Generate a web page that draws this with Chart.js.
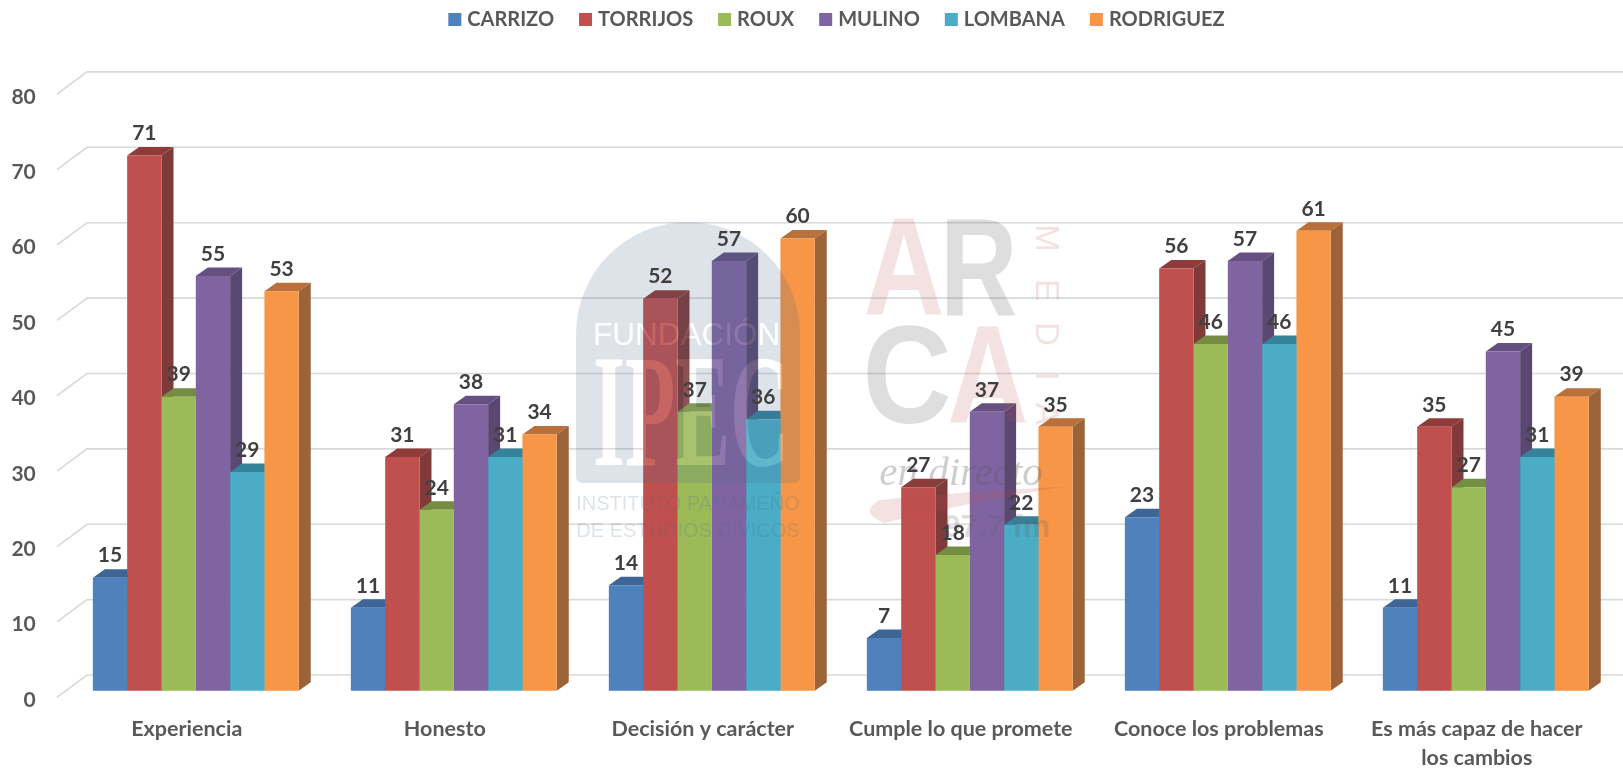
<!DOCTYPE html>
<html>
<head>
<meta charset="utf-8">
<style>html,body{margin:0;padding:0;background:#fff;overflow:hidden}canvas{display:block}</style>
<script src="https://cdn.jsdelivr.net/npm/chart.js@4"></script>
</head>
<body>
<canvas id="c" width="1623" height="768"></canvas>
<script>
const categories = ["Experiencia","Honesto","Decisión y carácter","Cumple lo que promete","Conoce los problemas",["Es más capaz de hacer","los cambios"]];
const seriesNames = ["CARRIZO","TORRIJOS","ROUX","MULINO","LOMBANA","RODRIGUEZ"];
const carrizo = [15,11,14,7,23,11];
const torrijos = [71,31,52,27,56,35];
const roux = [39,24,37,18,46,27];
const mulino = [55,38,57,37,57,45];
const lombana = [29,31,36,22,46,31];
const rodriguez = [53,34,60,35,61,39];
const yTicks = [0,10,20,30,40,50,60,70,80];
const frontColors = ["#4f81bd","#c0504d","#9bbb59","#8064a2","#4bacc6","#f79646"];
const topColors = ["#3d6595","#8f3b39","#748d43","#655081","#35839a","#b9703a"];
const sideColors = ["#365a85","#7f3a39","#67803c","#5a4872","#2f7488","#9c6238"];
const allValues = [carrizo,torrijos,roux,mulino,lombana,rodriguez];

const DEPTH_X = 12, DEPTH_Y = 8.5;
const FONT = "Lato, 'Open Sans', sans-serif";

function fitLetter(ctx, ch, left, right, baseline, font, color) {
  ctx.save();
  ctx.font = font;
  ctx.textAlign = 'left';
  ctx.textBaseline = 'alphabetic';
  ctx.fillStyle = color;
  const m = ctx.measureText(ch);
  const inkW = m.actualBoundingBoxLeft + m.actualBoundingBoxRight;
  const sx = (right - left) / inkW;
  ctx.translate(left, baseline);
  ctx.scale(sx, 1);
  ctx.fillText(ch, m.actualBoundingBoxLeft, 0);
  ctx.restore();
}

function drawArca(ctx) {
  const pink = 'rgba(192,80,77,0.17)', grey = 'rgba(90,90,90,0.2)';
  const f = "bold 140px 'Liberation Sans'";
  fitLetter(ctx, 'A', 866, 942, 315, f, pink);
  fitLetter(ctx, 'R', 947, 1016, 315, f, grey);
  fitLetter(ctx, 'C', 867, 949, 423, f, grey);
  fitLetter(ctx, 'A', 950, 1026, 423, f, pink);
  const word = [['M',238],['E',290],['D',334],['I',376],['A',414]];
  ctx.save();
  ctx.font = "33px 'Liberation Sans'";
  ctx.fillStyle = pink; ctx.textBaseline = 'middle'; ctx.textAlign = 'center';
  word.forEach(([ch, py]) => {
    ctx.save(); ctx.translate(1045, py); ctx.rotate(Math.PI / 2);
    ctx.fillText(ch, 0, 0); ctx.restore();
  });
  ctx.restore();
  ctx.save();
  ctx.textAlign = 'center'; ctx.textBaseline = 'alphabetic';
  ctx.font = "italic 41px 'Liberation Serif'";
  ctx.fillStyle = 'rgba(90,90,90,0.3)';
  ctx.fillText('en directo', 961, 485);
  ctx.fillStyle = pink;
  ctx.beginPath();
  ctx.moveTo(880, 500);
  ctx.quadraticCurveTo(980, 490, 1063, 487);
  ctx.quadraticCurveTo(980, 500, 884, 523);
  ctx.quadraticCurveTo(858, 512, 880, 500);
  ctx.closePath(); ctx.fill();
  ctx.font = "bold 31px 'Liberation Sans'";
  ctx.fillStyle = grey;
  ctx.fillText('97.7 fm', 997, 537);
  ctx.restore();
}

const legendNudgePlugin = {
  id: 'legendNudge',
  afterLayout(chart) { chart.legend.top += 4; }
};

const wallPlugin = {
  id: 'wall',
  beforeDatasetsDraw(chart) {
    const ctx = chart.ctx, y = chart.scales.y;
    ctx.save();
    ctx.strokeStyle = '#d9d9d9';
    ctx.lineWidth = 1.6;
    yTicks.forEach(v => {
      const p = y.getPixelForValue(v);
      ctx.beginPath();
      ctx.moveTo(57, p + 6.6);
      ctx.lineTo(87, p - 15.7);
      ctx.lineTo(1623, p - 15.7);
      ctx.stroke();
    });
    chart.data.datasets.forEach((ds, d) => {
      chart.getDatasetMeta(d).data.forEach(bar => {
        const l = bar.x - bar.width / 2, r = bar.x + bar.width / 2, t = bar.y, b = bar.base;
        ctx.fillStyle = topColors[d];
        ctx.beginPath();
        ctx.moveTo(l, t); ctx.lineTo(r, t);
        ctx.lineTo(r + DEPTH_X, t - DEPTH_Y); ctx.lineTo(l + DEPTH_X, t - DEPTH_Y);
        ctx.closePath(); ctx.fill();
        ctx.fillStyle = sideColors[d];
        ctx.beginPath();
        ctx.moveTo(r, t); ctx.lineTo(r + DEPTH_X, t - DEPTH_Y);
        ctx.lineTo(r + DEPTH_X, b - DEPTH_Y); ctx.lineTo(r, b);
        ctx.closePath(); ctx.fill();
      });
    });
    ctx.restore();
  }
};

function drawLogo(chart) {
  const off = document.createElement('canvas');
  off.width = 1623; off.height = 768;
  const o = off.getContext('2d');
  o.fillStyle = 'rgba(70,100,140,0.18)';
  o.beginPath();
  o.moveTo(576, 476);
  o.lineTo(576, 334);
  o.arc(688, 334, 112, Math.PI, 0);
  o.lineTo(800, 476);
  o.quadraticCurveTo(800, 483, 793, 483);
  o.lineTo(583, 483);
  o.quadraticCurveTo(576, 483, 576, 476);
  o.closePath(); o.fill();
  const letters = () => {
    o.textAlign = 'left'; o.textBaseline = 'alphabetic';
    o.font = "31.5px 'Liberation Sans'";
    o.fillText('FUNDACIÓN', 593, 345);
    o.save();
    o.translate(593, 465);
    o.scale(0.507, 1);
    o.font = "bold 162px 'Liberation Serif'";
    o.fillText('IPEC', 0, 0);
    o.restore();
  };
  o.globalCompositeOperation = 'destination-out';
  o.fillStyle = '#000'; letters();
  o.globalCompositeOperation = 'source-over';
  o.fillStyle = 'rgba(255,255,255,0.12)'; letters();
  o.fillStyle = 'rgba(70,100,140,0.18)';
  o.textAlign = 'center'; o.textBaseline = 'middle';
  o.font = "20px 'Liberation Sans'";
  o.fillText('INSTITUTO PANAMEÑO', 688, 504);
  o.fillText('DE ESTUDIOS CÍVICOS', 688, 531);
  chart.ctx.drawImage(off, 0, 0);
}

const overlayPlugin = {
  id: 'overlay',
  afterDatasetsDraw(chart) {
    const ctx = chart.ctx;
    drawLogo(chart);
    drawArca(ctx);
    ctx.save();
    ctx.fillStyle = '#404040';
    ctx.font = "bold 21px " + FONT;
    ctx.textAlign = 'center';
    ctx.textBaseline = 'middle';
    chart.data.datasets.forEach((ds, d) => {
      chart.getDatasetMeta(d).data.forEach((bar, i) => {
        ctx.fillText(String(ds.data[i]), bar.x, bar.y - 22);
      });
    });
    ctx.restore();
  }
};

new Chart(document.getElementById('c'), {
  type: 'bar',
  data: {
    labels: categories,
    datasets: seriesNames.map((n, i) => ({
      label: n,
      data: allValues[i],
      backgroundColor: frontColors[i],
      borderWidth: 0,
      yAxisID: 'y',
      barPercentage: 1,
      categoryPercentage: 0.798
    }))
  },
  plugins: [legendNudgePlugin, wallPlugin, overlayPlugin],
  options: {
    responsive: false,
    animation: false,
    layout: { padding: { left: 0, right: -54, top: -26.5, bottom: 0 } },
    plugins: {
      tooltip: { enabled: false },
      legend: {
        position: 'top',
        align: 'center',
        labels: {
          usePointStyle: true, pointStyle: 'rect',
          boxWidth: 5, boxHeight: 13, padding: 29,
          color: '#595959',
          font: { family: FONT, size: 20, weight: 'bold' }
        }
      }
    },
    scales: {
      x: {
        grid: { display: false }, border: { display: false },
        ticks: {
          color: '#595959', padding: 1, labelOffset: -9,
          maxRotation: 0, autoSkip: false,
          font: { family: FONT, size: 21.5, weight: 'bold', lineHeight: 1.35 }
        },
        afterFit(s) { s.height = 62.21; }
      },
      y: { display: false, min: -2, max: 86.9 },
      y1: {
        position: 'left', min: -0.77, max: 88.13,
        grid: { display: false }, border: { display: false },
        ticks: {
          color: '#595959', padding: 23,
          font: { family: FONT, size: 21, weight: 'bold' }
        },
        afterBuildTicks(s) { s.ticks = yTicks.map(v => ({ value: v })); },
        afterFit(s) { s.width = 66.8; }
      },
      yRight: {
        position: 'right', min: 0, max: 1,
        grid: { display: false }, border: { display: false },
        ticks: { display: false },
        afterFit(s) { s.width = 62.2; }
      }
    }
  }
});
</script>
</body>
</html>
